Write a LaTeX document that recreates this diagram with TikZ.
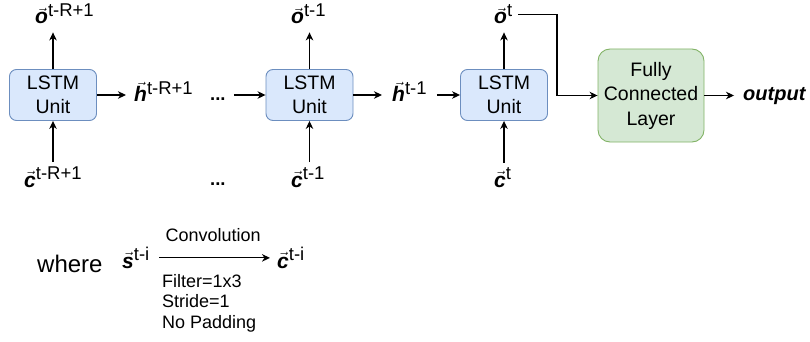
\documentclass[tikz,border=0pt]{standalone}
\usepackage{fontspec}
\setmainfont{Liberation Sans}
\usetikzlibrary{arrows.meta}
\definecolor{lstmblue}{HTML}{DAE8FC}
\definecolor{lstmedge}{HTML}{6C8EBF}
\definecolor{fcgreen}{HTML}{D5E8D4}
\definecolor{fcedge}{HTML}{82B366}
\newcommand{\vl}[1]{$\vec{\textbf{\textit{\fontsize{21}{24}\selectfont #1}}}$}
\newcommand{\up}[1]{\raisebox{0.38em}{#1}}

\begin{document}
\begin{tikzpicture}[x=1pt, y=-1pt,
  arrow/.style={->, >={Stealth[length=8pt, width=7.5pt, inset=2.5pt]}, line width=1.2pt},
  unit/.style={rounded corners=7pt, fill=lstmblue, draw=lstmedge, line width=0.9pt, minimum width=87pt, minimum height=51pt, align=center, font=\fontsize{19.5}{24}\selectfont},
  fcbox/.style={rounded corners=12pt, fill=fcgreen, draw=fcedge, line width=0.9pt, minimum width=106pt, minimum height=93pt, align=center, font=\fontsize{19.5}{24.5}\selectfont},
  lbl/.style={inner sep=0pt, anchor=base west, font=\fontsize{18.5}{22}\selectfont},
]
\useasboundingbox (0,0) rectangle (810,342);

% LSTM chain
\node[unit] (lstm1) at (53,95) {LSTM\\Unit};
\node[unit] (lstm2) at (309.5,95) {LSTM\\Unit};
\node[unit] (lstm3) at (504,95) {LSTM\\Unit};
\node[fcbox] (fc) at (651,95.5) {Fully\\Connected\\Layer};

% outputs, inputs and hidden states
\node[lbl] (o1) at (35,24) {\vl{o}\up{t-R+1}};
\node[lbl] (o2) at (291,24) {\vl{o}\up{t-1}};
\node[lbl] (o3) at (494,24) {\vl{o}\up{t}};
\node[lbl] (c1) at (24,187) {\vl{c}\up{t-R+1}};
\node[lbl] (c2) at (291,187) {\vl{c}\up{t-1}};
\node[lbl] (c3) at (494,187) {\vl{c}\up{t}};
\node[lbl] (h1) at (134,102) {\vl{h}\up{t-R+1}};
\node[lbl] (h2) at (392,102) {\vl{h}\up{t-1}};
\node[lbl] (dots1) at (210,101) {\textbf{...}};
\node[lbl] (dots2) at (210,185) {\textbf{...}};
\node[inner sep=0pt, anchor=base west, font=\fontsize{20}{24}\selectfont\bfseries\itshape] (out) at (743,100) {output};
\coordinate (bend) at (557,95);

\draw[arrow] (lstm1.north) -- ([yshift=-8pt]lstm1.north |- o1.south);
\draw[arrow] (lstm2.north) -- ([yshift=-8pt]lstm2.north |- o2.south);
\draw[arrow] (lstm3.north) -- ([yshift=-8pt]lstm3.north |- o3.south);
\draw[arrow] ([yshift=5pt]lstm1.south |- c1.north) -- (lstm1.south);
\draw[arrow] ([yshift=5pt]lstm2.south |- c2.north) -- (lstm2.south);
\draw[arrow] ([yshift=5pt]lstm3.south |- c3.north) -- (lstm3.south);
\draw[arrow] (lstm1.east) -- ([xshift=-8pt]lstm1.east -| h1.west);
\draw[arrow] ([xshift=8pt]dots1.east |- lstm2.west) -- (lstm2.west);
\draw[arrow] (lstm2.east) -- ([xshift=-10pt]lstm2.east -| h2.west);
\draw[arrow] ([xshift=10pt]h2.east |- lstm3.west) -- (lstm3.west);
\draw[arrow] ([xshift=6pt]o3.east) -| (bend) |- (fc.west);
\draw[arrow] (fc.east) -- ([xshift=-9pt]fc.east -| out.west);

% convolution note
\node[inner sep=0pt, anchor=base west, font=\fontsize{24}{28}\selectfont] (where) at (37,272) {where};
\node[lbl] (s) at (122,268) {\vl{s}\up{t-i}};
\node[lbl] (ct) at (277,268) {\vl{c}\up{t-i}};
\draw[arrow, shorten <=10pt, shorten >=7pt] (s.east) -- (ct.west)
  node[midway, above=12pt, font=\fontsize{18}{22}\selectfont] (convlbl) {Convolution};
\node[inner sep=0pt, anchor=north west, align=left, font=\fontsize{18}{20.5}\selectfont] (params) at (162,274) {Filter=1x3\\Stride=1\\No Padding};
\end{tikzpicture}
\end{document}
